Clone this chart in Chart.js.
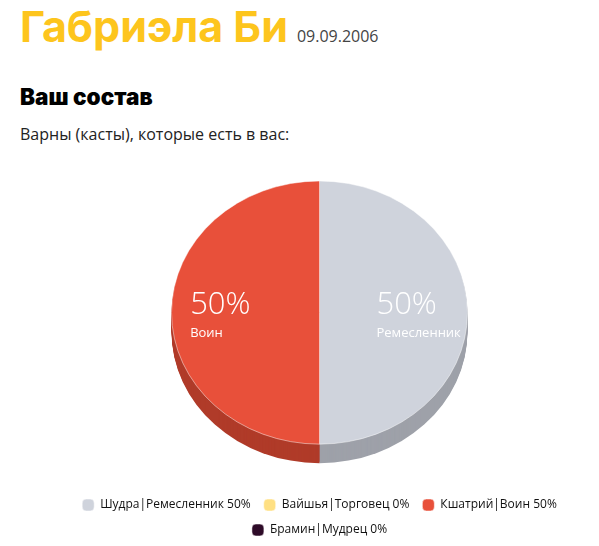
<!DOCTYPE html>
<html lang="ru">
<head>
<meta charset="utf-8">
<script src="https://cdn.jsdelivr.net/npm/chart.js@4"></script>
<style>
  body { margin: 0; background: #fff; font-family: "Open Sans", sans-serif; overflow: hidden; }
  #name { position: absolute; left: 20px; top: -4px; font-family: Inter, sans-serif; font-weight: 700; font-size: 43px; color: #fdc51d; line-height: 60px; white-space: nowrap; }
  #name small { font-family: "Open Sans", sans-serif; font-weight: 400; font-size: 16px; color: #444; margin-left: 9px; }
  #head { position: absolute; left: 20px; top: 82px; font-family: Inter, sans-serif; font-weight: 900; font-size: 22.5px; color: #000; line-height: 30px; }
  #sub { position: absolute; left: 20px; top: 123px; font-size: 16px; color: #222; line-height: 22px; }
  #box { position: absolute; left: 40px; top: 150px; width: 559px; height: 396px; }
</style>
</head>
<body>
<div id="name">Габриэла Би<small>09.09.2006</small></div>
<div id="head">Ваш состав</div>
<div id="sub">Варны (касты), которые есть в вас:</div>
<div id="box"><canvas id="varnaPie"></canvas></div>
<script>
/* varnas and their shares */
let varnas = ["Шудра", "Вайшья", "Кшатрий", "Брамин"]
let roles = ["Ремесленник", "Торговец", "Воин", "Мудрец"]
let shares = [50, 0, 50, 0]

let topColors = ["#cfd3dc", "#ffe083", "#e8503a", "#2e0b28"]
let sideColors = ["#9ea1a9", "#c9a94f", "#b03b29", "#1a0516"]

// pie gets flattened to look tilted, plus a side wall
const SQUASH = 0.889
const DEPTH = 19

const pie3d = {
    id: "pie3d",
    beforeDatasetsDraw(chart) {
        const meta = chart.getDatasetMeta(0)
        const arc0 = meta.data[0]
        const ctx = chart.ctx
        const cx = arc0.x, cy = arc0.y, r = arc0.outerRadius
        const pivot = cy - r
        ctx.save()
        ctx.translate(0, pivot)
        ctx.scale(1, SQUASH)
        ctx.translate(0, -pivot)
        // side wall: stacked copies pushed downwards
        for (let d = DEPTH; d > 0; d--) {
            meta.data.forEach((arc, i) => {
                if (!shares[i]) return
                ctx.beginPath()
                ctx.moveTo(cx, cy + d / SQUASH)
                ctx.arc(cx, cy + d / SQUASH, r, arc.startAngle, arc.endAngle)
                ctx.closePath()
                ctx.fillStyle = sideColors[i]
                ctx.fill()
            })
        }
    },
    afterDatasetsDraw(chart) {
        const ctx = chart.ctx
        ctx.restore()
        const meta = chart.getDatasetMeta(0)
        meta.data.forEach((arc, i) => {
            if (!shares[i]) return
            const r = arc.outerRadius
            const top = arc.y - r
            const cyShown = top + r * SQUASH
            const mid = (arc.startAngle + arc.endAngle) / 2
            const px = arc.x + Math.cos(mid) * r * 0.67
            const py = cyShown + Math.sin(mid) * r * 0.67 * SQUASH
            const big = shares[i] + "%"
            ctx.save()
            ctx.fillStyle = "#fff"
            ctx.textBaseline = "alphabetic"
            ctx.textAlign = "left"
            ctx.font = "300 31px 'Open Sans'"
            const w1 = ctx.measureText(big).width
            ctx.font = "400 13px 'Open Sans'"
            const w2 = ctx.measureText(roles[i]).width
            const left = px - Math.max(w1, w2) / 2
            ctx.font = "300 31px 'Open Sans'"
            ctx.fillText(big, left, py + 1)
            ctx.font = "400 13px 'Open Sans'"
            ctx.fillText(roles[i], left, py + 24)
            ctx.restore()
        })
    }
}

new Chart("varnaPie", {
    type: "pie",
    data: {
        labels: varnas.map((v, i) => v + "|" + roles[i] + " " + shares[i] + "%"),
        datasets: [{
            data: shares,
            backgroundColor: topColors,
            borderColor: "rgba(255,255,255,0.5)",
            borderWidth: 1,
            radius: 148
        }]
    },
    options: {
        responsive: true,
        maintainAspectRatio: false,
        animation: false,
        layout: { padding: { top: 22, bottom: 0 } },
        plugins: {
            tooltip: { enabled: false },
            legend: {
                position: "bottom",
                labels: {
                    boxWidth: 12,
                    boxHeight: 12,
                    useBorderRadius: true,
                    borderRadius: 4,
                    padding: 13,
                    color: "#111",
                    font: { family: "'Open Sans'", size: 12 }
                }
            }
        }
    },
    plugins: [pie3d]
})
</script>
</body>
</html>
